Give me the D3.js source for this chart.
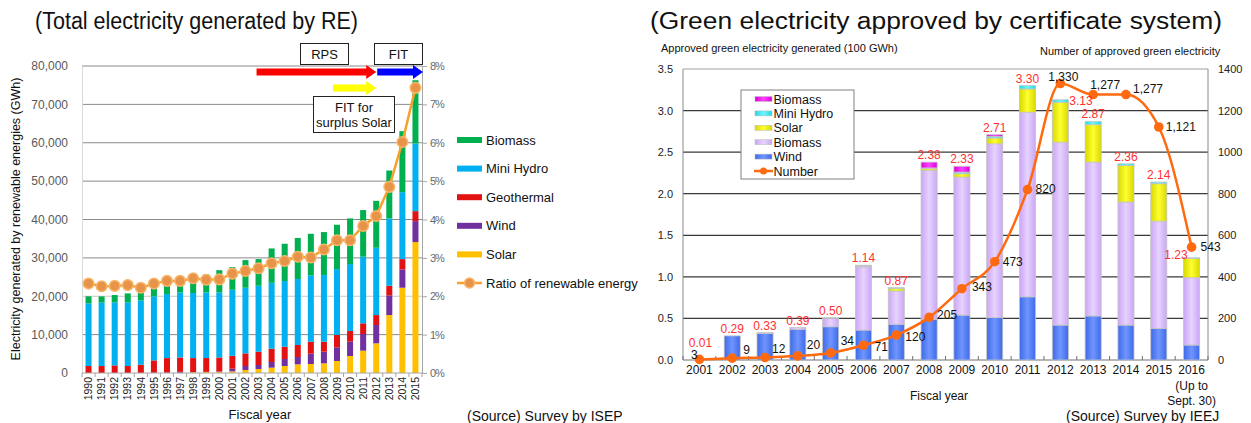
<!DOCTYPE html>
<html><head><meta charset="utf-8">
<script src="https://cdn.jsdelivr.net/npm/d3@7"></script>
<style>
body{margin:0;background:#fff}
svg{display:block}
text{font-family:"Liberation Sans",Arial,sans-serif}
</style>
</head><body>
<svg id="c" width="1251" height="423"></svg>
<script>
// ---------- LEFT CHART DATA (GWh) ----------
const fiscalYears = ["1990","1991","1992","1993","1994","1995","1996","1997","1998","1999","2000","2001","2002","2003","2004","2005","2006","2007","2008","2009","2010","2011","2012","2013","2014","2015"];
const solarGWh      = [0,0,0,0,0,0,0,50,170,250,300,430,780,1040,1390,1820,2260,2340,2520,3130,4430,5820,7730,15100,22220,34110];
const windGWh       = [0,0,0,0,0,50,80,250,80,50,150,690,1040,1040,1470,1830,1910,2690,3040,3560,3730,4340,4770,5120,4770,5470];
const geothermalGWh = [1820,1820,1990,1820,2160,3240,3810,3760,3640,3600,3610,3370,3300,3460,3470,3210,3130,3130,2600,3210,2780,2780,2600,2520,2690,2600];
const miniHydroGWh  = [16340,16510,16430,16600,16770,16690,16690,16950,16950,17110,16950,17200,17090,17190,17180,17100,17190,17280,17360,17190,17450,17360,17530,17530,17450,17620];
const biomassGWh    = [1820,1640,1900,2330,2160,2430,2320,2590,4160,4690,5790,5900,7210,6950,8950,9720,10680,10840,11200,11540,11890,12160,12240,12500,15890,16490];
const ratioPct      = [2.33,2.26,2.27,2.29,2.22,2.33,2.40,2.40,2.47,2.43,2.44,2.59,2.66,2.73,2.86,2.92,3.03,3.01,3.22,3.46,3.46,3.83,4.09,4.85,6.02,7.43];
const leftTicks     = [0,10000,20000,30000,40000,50000,60000,70000,80000];
const pctTicks      = [0,1,2,3,4,5,6,7,8];
const leftSeriesNames = ["Biomass","Mini Hydro","Geothermal","Wind","Solar"];

// ---------- RIGHT CHART DATA (100 GWh) ----------
const greenYears   = ["2001","2002","2003","2004","2005","2006","2007","2008","2009","2010","2011","2012","2013","2014","2015","2016"];
const windGreen    = [0.01,0.29,0.32,0.37,0.40,0.36,0.43,0.49,0.54,0.51,0.76,0.42,0.53,0.42,0.38,0.18];
const biomassGreen = [0,0,0.01,0.02,0.10,0.76,0.40,1.79,1.66,2.09,2.22,2.20,1.85,1.48,1.29,0.81];
const solarGreen   = [0,0,0,0,0,0.01,0.03,0.02,0.04,0.07,0.28,0.48,0.45,0.44,0.45,0.23];
const hydroGreen   = [0,0,0,0,0,0.01,0.01,0.01,0.02,0.02,0.04,0.03,0.04,0.02,0.02,0.01];
const biomass2Green= [0,0,0,0,0,0,0,0.07,0.07,0.02,0,0,0,0,0,0];
const totalLabels  = ["0.01","0.29","0.33","0.39","0.50","1.14","0.87","2.38","2.33","2.71","3.30","3.13","2.87","2.36","2.14","1.23"];
const approvedCount= [3,9,12,20,34,71,120,205,343,473,820,1330,1277,1277,1121,543];
const greenTicks   = [0,0.5,1.0,1.5,2.0,2.5,3.0,3.5];
const countTicks   = [0,200,400,600,800,1000,1200,1400];
const rightLegendNames = ["Biomass","Mini Hydro","Solar","Biomass","Wind","Number"];

const svg = d3.select("#c");
svg.append("rect").attr("width",1251).attr("height",423).attr("fill","#fff");

// ======================= LEFT CHART =======================
const L = {left:82,right:422,top:66,bottom:373};
const xL = d3.scaleBand().domain(fiscalYears).range([L.left,L.right]).paddingInner(0.54).paddingOuter(0.27);
const yL = d3.scaleLinear().domain([0,80000]).range([L.bottom,L.top]);
const yP = d3.scaleLinear().domain([0,8]).range([L.bottom,L.top]);
const gL = svg.append("g");

gL.append("text").attr("x",35).attr("y",29).attr("font-size",23).attr("fill","#111")
  .attr("textLength",323).attr("lengthAdjust","spacingAndGlyphs")
  .text("(Total electricity generated by RE)");

gL.append("g").selectAll("line").data(leftTicks.filter(d=>d>0)).join("line")
  .attr("x1",L.left).attr("x2",L.right).attr("y1",d=>yL(d)).attr("y2",d=>yL(d))
  .attr("stroke",d=>d===20000?"#c8c8c8":"#8a8a8a").attr("stroke-width",1);

const leftRows = fiscalYears.map((y,i)=>({year:y,solar:solarGWh[i],wind:windGWh[i],geo:geothermalGWh[i],hydro:miniHydroGWh[i],bio:biomassGWh[i]}));
const leftKeys = ["solar","wind","geo","hydro","bio"];
const leftColors = {solar:"#FFC000",wind:"#7030A0",geo:"#E31212",hydro:"#00B0F0",bio:"#00B050"};
const stL = d3.stack().keys(leftKeys)(leftRows);
gL.append("g").selectAll("g").data(stL).join("g").attr("fill",d=>leftColors[d.key])
  .selectAll("rect").data(d=>d).join("rect")
  .attr("x",d=>xL(d.data.year)).attr("width",xL.bandwidth())
  .attr("y",d=>yL(d[1])).attr("height",d=>Math.max(0,yL(d[0])-yL(d[1])));

const axL = gL.append("g").attr("transform",`translate(${L.left},0)`)
  .call(d3.axisLeft(yL).tickValues(leftTicks).tickFormat(d3.format(",")).tickSize(0).tickPadding(14));
axL.select(".domain").attr("stroke","#d9d9d9");
axL.selectAll("text").attr("font-size",12).attr("fill","#595959").attr("font-family","Liberation Sans, Arial");

const axR = gL.append("g").attr("transform",`translate(${L.right},0)`)
  .call(d3.axisRight(yP).tickValues(pctTicks).tickFormat(d=>d+"%").tickSize(5).tickPadding(3));
axR.select(".domain").attr("stroke","#a6a6a6");
axR.selectAll(".tick line").attr("stroke","#a6a6a6");
axR.selectAll("text").attr("font-size",11).attr("fill","#6a6a6a").attr("font-family","DejaVu Serif, serif").attr("letter-spacing","-1px");

gL.append("line").attr("x1",L.left).attr("x2",L.right).attr("y1",L.bottom).attr("y2",L.bottom).attr("stroke","#a6a6a6");
const bL = fiscalYears.map(d=>xL(d)+xL.bandwidth()/2-xL.step()/2).concat([L.right]);
gL.append("g").selectAll("line").data(bL).join("line")
  .attr("x1",d=>d).attr("x2",d=>d).attr("y1",L.bottom).attr("y2",L.bottom+4).attr("stroke","#a6a6a6");
gL.append("g").selectAll("text").data(fiscalYears).join("text")
  .attr("transform",d=>`translate(${xL(d)+xL.bandwidth()/2},377) rotate(-90)`)
  .attr("text-anchor","end").attr("dy","0.35em").attr("font-size",10.5).attr("fill","#222").text(d=>d);

gL.append("text").attr("transform","translate(20,219) rotate(-90)").attr("text-anchor","middle")
  .attr("font-size",12.5).attr("fill","#111").text("Electricity generated by renewable energies (GWh)");
gL.append("text").attr("x",260).attr("y",419).attr("text-anchor","middle").attr("font-size",13).attr("fill","#111").text("Fiscal year");
gL.append("text").attr("x",467).attr("y",421).attr("font-size",14).attr("fill","#111").text("(Source) Survey by ISEP");

const ratioLine = d3.line().x((d,i)=>xL(fiscalYears[i])+xL.bandwidth()/2).y(d=>yP(d));
gL.append("path").datum(ratioPct).attr("d",ratioLine).attr("fill","none").attr("stroke","#F7A12A").attr("stroke-width",2.5);
gL.append("g").selectAll("circle").data(ratioPct).join("circle")
  .attr("cx",(d,i)=>xL(fiscalYears[i])+xL.bandwidth()/2).attr("cy",d=>yP(d)).attr("r",5.3)
  .attr("fill","#E8934A").attr("stroke","#F8B66A").attr("stroke-width",1.5);

function arrow(g,x0,x1,yc,color){
  const sh=3.5, hh=7, hl=10;
  g.append("polygon").attr("fill",color)
   .attr("points",[[x0,yc-sh],[x1-hl,yc-sh],[x1-hl,yc-hh],[x1,yc],[x1-hl,yc+hh],[x1-hl,yc+sh],[x0,yc+sh]].map(p=>p.join(",")).join(" "));
}
const cxL = y=>xL(y)+xL.bandwidth()/2;
arrow(gL,cxL("2003")-2,cxL("2012"),72,"#FF0000");
arrow(gL,cxL("2012")+1,L.right+1,72,"#0000FF");
arrow(gL,cxL("2009")-4,cxL("2012"),88,"#FFFF00");
function box(g,x,y,w,h,lines,fs,gap){
  g.append("rect").attr("x",x).attr("y",y).attr("width",w).attr("height",h).attr("fill","#fff").attr("stroke","#222").attr("stroke-width",1);
  const y0 = y + h/2 - (lines.length-1)*gap/2;
  lines.forEach((t,i)=>g.append("text").attr("x",x+w/2).attr("y",y0+i*gap).attr("dy","0.36em")
    .attr("text-anchor","middle").attr("font-size",fs).attr("fill","#111").text(t));
}
box(gL,300.5,43.5,48,21,["RPS"],13,0);
box(gL,374.5,43.5,48,21,["FIT"],13,0);
box(gL,313.5,96.5,81,36,["FIT for","surplus Solar"],13,15);

const legL = gL.append("g");
const legKeys = ["bio","hydro","geo","wind","solar"];
legKeys.forEach((k,i)=>{
  const yy = 140 + i*28.6;
  legL.append("rect").attr("x",457).attr("y",yy-3).attr("width",25).attr("height",6).attr("fill",leftColors[k]);
  legL.append("text").attr("x",486).attr("y",yy).attr("dy","0.36em").attr("font-size",13).attr("fill","#111").text(leftSeriesNames[i]);
});
{
  const yy = 140 + 5*28.6;
  legL.append("line").attr("x1",457).attr("x2",482).attr("y1",yy).attr("y2",yy).attr("stroke","#F7A12A").attr("stroke-width",2.5);
  legL.append("circle").attr("cx",469.5).attr("cy",yy).attr("r",5).attr("fill","#E8934A").attr("stroke","#F8B66A").attr("stroke-width",1.5);
  legL.append("text").attr("x",486).attr("y",yy).attr("dy","0.36em").attr("font-size",13).attr("fill","#111").text("Ratio of renewable energy");
}

// ======================= RIGHT CHART =======================
const R = {left:683,right:1208,top:69,bottom:360};
const x2 = d3.scaleBand().domain(greenYears).range([R.left,R.right]).paddingInner(0.51).paddingOuter(0.255);
const y2 = d3.scaleLinear().domain([0,3.5]).range([R.bottom,R.top]);
const yN = d3.scaleLinear().domain([0,1400]).range([R.bottom,R.top]);
const gR = svg.append("g");

const defs = svg.append("defs");
function grad(id,edge,mid){
  const lg = defs.append("linearGradient").attr("id",id).attr("x1",0).attr("x2",1).attr("y1",0).attr("y2",0);
  lg.append("stop").attr("offset","0%").attr("stop-color",edge);
  lg.append("stop").attr("offset","50%").attr("stop-color",mid);
  lg.append("stop").attr("offset","100%").attr("stop-color",edge);
}
grad("gWind","#3E6AE8","#6F95FF");
grad("gBio","#CBA6F5","#E6D3FF");
grad("gSolar","#D8D800","#FFFF30");
grad("gHydro","#22D8E0","#6FF5FA");
grad("gBio2","#D800D8","#FF40FF");

gR.append("text").attr("x",650).attr("y",29).attr("font-size",23).attr("fill","#111")
  .attr("textLength",572).attr("lengthAdjust","spacingAndGlyphs")
  .text("(Green electricity approved by certificate system)");
gR.append("text").attr("x",661).attr("y",52).attr("font-size",11).attr("fill","#111").text("Approved green electricity generated (100 GWh)");
gR.append("text").attr("x",1040).attr("y",55).attr("font-size",11).attr("fill","#111").text("Number of approved green electricity");

gR.append("g").selectAll("line").data(greenTicks).join("line")
  .attr("x1",R.left).attr("x2",R.right).attr("y1",d=>y2(d)).attr("y2",d=>y2(d))
  .attr("stroke",d=>d===3.5?"#a0a0a0":(d===0?"#707070":"#3a3a3a")).attr("stroke-width",d=>d===3.5?1:1.2);
gR.append("line").attr("x1",R.left).attr("x2",R.left).attr("y1",R.top).attr("y2",R.bottom).attr("stroke","#8a8a8a");
gR.append("line").attr("x1",R.right).attr("x2",R.right).attr("y1",R.top).attr("y2",R.bottom).attr("stroke","#8a8a8a");

gR.append("g").selectAll("text").data(greenTicks).join("text")
  .attr("x",673).attr("y",d=>y2(d)).attr("dy","0.36em").attr("text-anchor","end")
  .attr("font-size",11).attr("fill","#222").text(d3.format(".1f"));
gR.append("g").selectAll("text").data(countTicks).join("text")
  .attr("x",1218).attr("y",d=>yN(d)).attr("dy","0.36em")
  .attr("font-size",11).attr("fill","#222").text(d=>d);

const legR = gR.append("g");
legR.append("rect").attr("x",741).attr("y",90).attr("width",113).attr("height",89).attr("fill","#fff").attr("stroke","#808080");
const legFills = ["url(#gBio2)","url(#gHydro)","url(#gSolar)","url(#gBio)","url(#gWind)"];
legFills.forEach((f,i)=>{
  const yy = 99 + i*14.4;
  legR.append("rect").attr("x",755).attr("y",yy-2.5).attr("width",17).attr("height",5).attr("fill",f).attr("stroke","#bbb").attr("stroke-width",0.5);
  legR.append("text").attr("x",773.5).attr("y",yy).attr("dy","0.36em").attr("font-size",12.5).attr("fill","#111").text(rightLegendNames[i]);
});
{
  const yy = 99 + 5*14.4;
  legR.append("line").attr("x1",754).attr("x2",773).attr("y1",yy).attr("y2",yy).attr("stroke","#FF6A10").attr("stroke-width",2.5);
  legR.append("circle").attr("cx",763.5).attr("cy",yy).attr("r",3.5).attr("fill","#FF6A10");
  legR.append("text").attr("x",773.5).attr("y",yy).attr("dy","0.36em").attr("font-size",12.5).attr("fill","#111").text(rightLegendNames[5]);
}

const rightRows = greenYears.map((y,i)=>({year:y,wind:windGreen[i],bio:biomassGreen[i],solar:solarGreen[i],hydro:hydroGreen[i],bio2:biomass2Green[i]}));
const rightKeys = ["wind","bio","solar","hydro","bio2"];
const rightFills = {wind:"url(#gWind)",bio:"url(#gBio)",solar:"url(#gSolar)",hydro:"url(#gHydro)",bio2:"url(#gBio2)"};
const stR = d3.stack().keys(rightKeys)(rightRows);
gR.append("g").selectAll("g").data(stR).join("g").attr("fill",d=>rightFills[d.key])
  .selectAll("rect").data(d=>d.filter(s=>s[1]-s[0]>0)).join("rect")
  .attr("x",d=>x2(d.data.year)).attr("width",x2.bandwidth())
  .attr("y",d=>y2(d[1])).attr("height",d=>Math.max(0.8,y2(d[0])-y2(d[1])))
  .attr("stroke","#c4c4c4").attr("stroke-width",0.8);

const bR = greenYears.map(d=>x2(d)+x2.bandwidth()/2-x2.step()/2).concat([R.right]);
gR.append("g").selectAll("line").data(bR).join("line")
  .attr("x1",d=>d).attr("x2",d=>d).attr("y1",R.bottom).attr("y2",R.bottom-4).attr("stroke","#707070");
gR.append("g").selectAll("text").data(greenYears).join("text")
  .attr("x",d=>x2(d)+x2.bandwidth()/2).attr("y",374).attr("text-anchor","middle")
  .attr("font-size",12).attr("fill","#111").text(d=>d);
const c2016 = x2("2016")+x2.bandwidth()/2;
gR.append("text").attr("x",c2016).attr("y",390).attr("text-anchor","middle").attr("font-size",12).attr("fill","#111").text("(Up to");
gR.append("text").attr("x",c2016).attr("y",405).attr("text-anchor","middle").attr("font-size",12).attr("fill","#111").text("Sept. 30)");
gR.append("text").attr("x",910).attr("y",400).attr("font-size",12).attr("fill","#111").text("Fiscal year");
gR.append("text").attr("x",1066).attr("y",421).attr("font-size",14).attr("fill","#111").text("(Source) Survey by IEEJ");

const cx2 = y=>x2(y)+x2.bandwidth()/2;
const numLine = d3.line().curve(d3.curveMonotoneX).x((d,i)=>cx2(greenYears[i])).y(d=>yN(d));
gR.append("path").datum(approvedCount).attr("d",numLine).attr("fill","none").attr("stroke","#FF6A10").attr("stroke-width",2.5);
gR.append("g").selectAll("circle").data(approvedCount).join("circle")
  .attr("cx",(d,i)=>cx2(greenYears[i])).attr("cy",d=>yN(d)).attr("r",4.8).attr("fill","#FF6A10");

const numPlace = [[-5,0,"middle"],[11,-4,"start"],[7,-5,"start"],[9,-7,"start"],[10,-8,"start"],[11,6,"start"],[9,6,"start"],[8,2,"start"],[10,2,"start"],[8,4,"start"],[8,3,"start"],[3,-3,"middle"],[-3,-6,"start"],[7,-2,"start"],[7,4,"start"],[9,4,"start"]];
gR.append("g").selectAll("text").data(approvedCount).join("text")
  .attr("x",(d,i)=>cx2(greenYears[i])+numPlace[i][0]).attr("y",d=>yN(d)).attr("dy",(d,i)=>numPlace[i][1])
  .attr("text-anchor",(d,i)=>numPlace[i][2]).attr("font-size",12).attr("fill","#111").text(d3.format(","));

const totals = rightRows.map(r=>r.wind+r.bio+r.solar+r.hydro+r.bio2);
const totPlace = greenYears.map(y=> y==="2012" ? [9,5,"start"] : y==="2016" ? [-4,1,"end"] : y==="2001" ? [1,-12,"middle"] : [0,-3,"middle"]);
gR.append("g").selectAll("text").data(totals).join("text")
  .attr("x",(d,i)=>cx2(greenYears[i])+totPlace[i][0]).attr("y",d=>y2(d)).attr("dy",(d,i)=>totPlace[i][1])
  .attr("text-anchor",(d,i)=>totPlace[i][2]).attr("font-size",12).attr("fill","#FF3030").text((d,i)=>totalLabels[i]);
</script>
</body></html>
